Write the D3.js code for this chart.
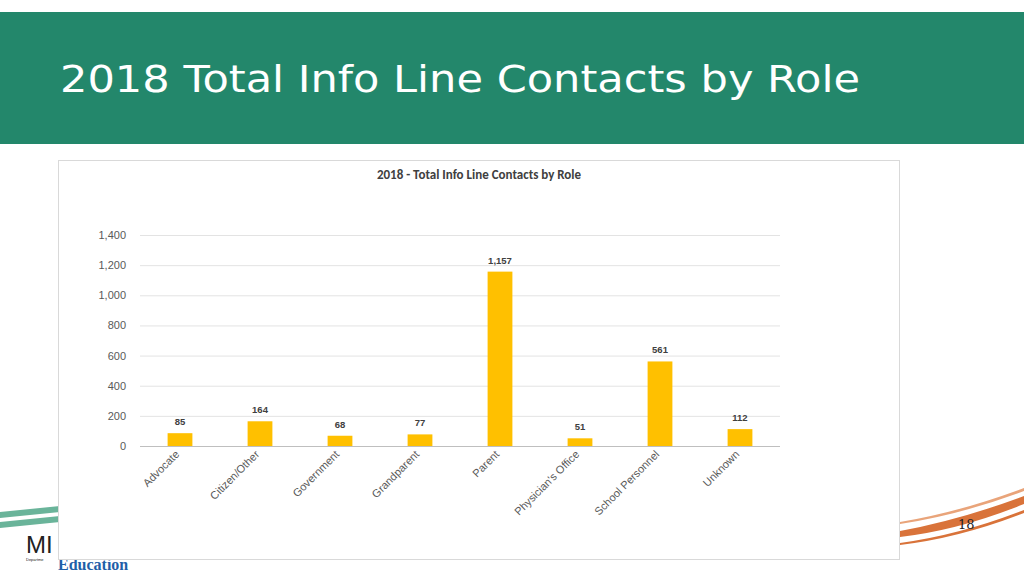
<!DOCTYPE html><html><head><script src="https://cdn.jsdelivr.net/npm/d3@7"></script>
<style>body{margin:0;background:#fff}svg{display:block}</style></head><body><svg width="1024" height="576"></svg>
<script>
const categories=["Advocate","Citizen/Other","Government","Grandparent","Parent","Physician's Office","School Personnel","Unknown"];
const values=[85,164,68,77,1157,51,561,112];
const yTicks=[0,200,400,600,800,1000,1200,1400];
const svg=d3.select("svg");
svg.append("rect").attr("x",0).attr("y",12).attr("width",1024).attr("height",132).attr("fill","#23876b");
svg.append("text").attr("x",60).attr("y",92).attr("fill","#fff").attr("font-family","DejaVu Sans, sans-serif").attr("font-size",38).attr("textLength",800).attr("lengthAdjust","spacingAndGlyphs").text("2018 Total Info Line Contacts by Role");
// decorations
svg.append("path").attr("d","M0,512 L60,506 L60,512 L0,518Z").attr("fill","#6ab49a");
svg.append("path").attr("d","M0,522 L60,516 L60,522 L0,528Z").attr("fill","#6ab49a");
svg.append("path").attr("d","M900,531 Q960,520 1024,496 L1024,504 Q960,530 900,537Z").attr("fill","#d9733a");
svg.append("path").attr("d","M900,522 Q960,512 1024,488 L1024,491 Q960,515 900,524Z").attr("fill","#e9a47a");
svg.append("path").attr("d","M900,543 Q960,535 1024,510 L1024,513 Q960,538 900,545Z").attr("fill","#d9733a");
svg.append("text").attr("x",26).attr("y",553).attr("font-family","Arial, sans-serif").attr("font-size",24).attr("fill","#222").text("MI");
svg.append("text").attr("x",26).attr("y",561).attr("font-family","Arial, sans-serif").attr("font-size",4).attr("fill","#222").text("Departme");
svg.append("text").attr("x",58).attr("y",570).attr("font-family","Georgia, serif").attr("font-weight","bold").attr("font-size",16).attr("fill","#1f5fa8").text("Education");
// chart box
svg.append("rect").attr("x",58.5).attr("y",160.5).attr("width",841).attr("height",399).attr("fill","#fff").attr("stroke","#d9d9d9");
svg.append("text").attr("x",958).attr("y",529).attr("font-family","DejaVu Serif, serif").attr("font-size",13).attr("fill","#222").text("18");
svg.append("text").attr("x",479).attr("y",179).attr("text-anchor","middle").attr("font-family","Calibri, Carlito, Liberation Sans, sans-serif").attr("font-weight","bold").attr("font-size",13).attr("fill","#404040").text("2018 - Total Info Line Contacts by Role");
const x=d3.scaleBand().domain(categories).range([140,780]).paddingInner(0.69).paddingOuter(0.345);
const y=d3.scaleLinear().domain([0,1400]).range([446,235]);
const g=svg.append("g");
g.selectAll("line.grid").data(yTicks).join("line").attr("x1",140).attr("x2",780).attr("y1",d=>y(d)+.5).attr("y2",d=>y(d)+.5).attr("stroke",d=>d===0?"#bfbfbf":"#e3e3e3");
g.selectAll("text.yt").data(yTicks).join("text").attr("x",126).attr("y",d=>y(d)+4).attr("text-anchor","end").attr("font-family","Liberation Sans, Arial, sans-serif").attr("font-size",11).attr("fill","#595959").text(d3.format(","));
g.selectAll("rect.bar").data(values).join("rect").attr("x",(d,i)=>x(categories[i])).attr("width",x.bandwidth()).attr("y",d=>y(d)).attr("height",d=>y(0)-y(d)).attr("fill","#ffc000");
g.selectAll("text.vl").data(values).join("text").attr("x",(d,i)=>x(categories[i])+x.bandwidth()/2).attr("y",d=>y(d)-8).attr("text-anchor","middle").attr("font-family","Liberation Sans, Arial, sans-serif").attr("font-weight","bold").attr("font-size",9.5).attr("fill","#404040").text(d3.format(","));
g.selectAll("text.xl").data(categories).join("text").attr("transform",d=>`translate(${x(d)+x.bandwidth()/2},${455}) rotate(-45)`).attr("text-anchor","end").attr("font-family","Liberation Sans, Arial, sans-serif").attr("font-size",11).attr("fill","#595959").text(d=>d);
</script></body></html>
